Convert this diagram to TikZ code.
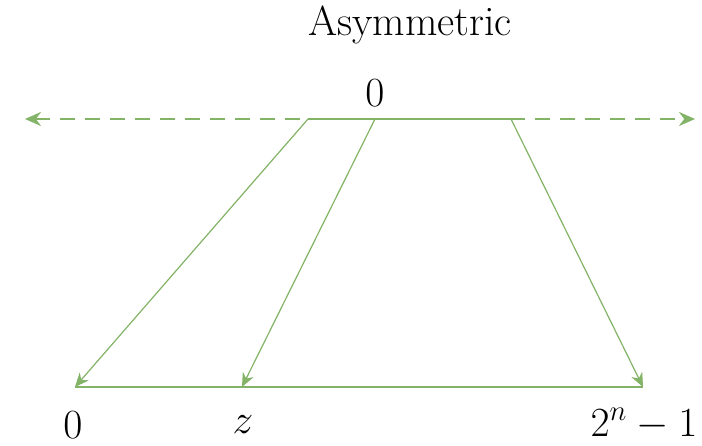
\documentclass[tikz,border=0pt]{standalone}
\usepackage{amsmath,amssymb}
\usetikzlibrary{arrows.meta}
\definecolor{lgreen}{HTML}{82B366}

\begin{document}
\begin{tikzpicture}[>=Stealth,x=0.5pt,y=-0.5pt,
  every node/.style={font=\fontsize{22}{26}\selectfont,inner sep=0pt},
  axis/.style={lgreen,line width=1.2pt},
  map/.style={lgreen,line width=0.6pt,-{Stealth[length=7pt,width=6pt]}}]
\useasboundingbox (0,0) rectangle (702,445);
\node[font=\fontsize{21}{25}\selectfont] (title) at (410,25) {Asymmetric};
\coordinate (l) at (25,119);
\coordinate (r) at (695,119);
\coordinate (tl) at (308,119);
\coordinate (tz) at (375,119);
\coordinate (tr) at (511,119);
\coordinate (bl) at (75,387);
\coordinate (bz) at (242,387);
\coordinate (br) at (643,387);
\draw[axis,dash pattern=on 7.5pt off 5pt,<->,>={Stealth[length=8pt,width=7pt]}] (l)--(r);
\draw[axis] (tl)--(tr);
\draw[axis] (bl)--(br);
\draw[map] (tl)--(bl);
\draw[map] (tz)--(bz);
\draw[map] (tr)--(br);
\node (zero) at (375,93) {$0$};
\node (lo) at (73,425) {$0$};
\node (z) at (243,425) {$z$};
\node (hi) at (644,424) {$2^n-1$};
\end{tikzpicture}
\end{document}
